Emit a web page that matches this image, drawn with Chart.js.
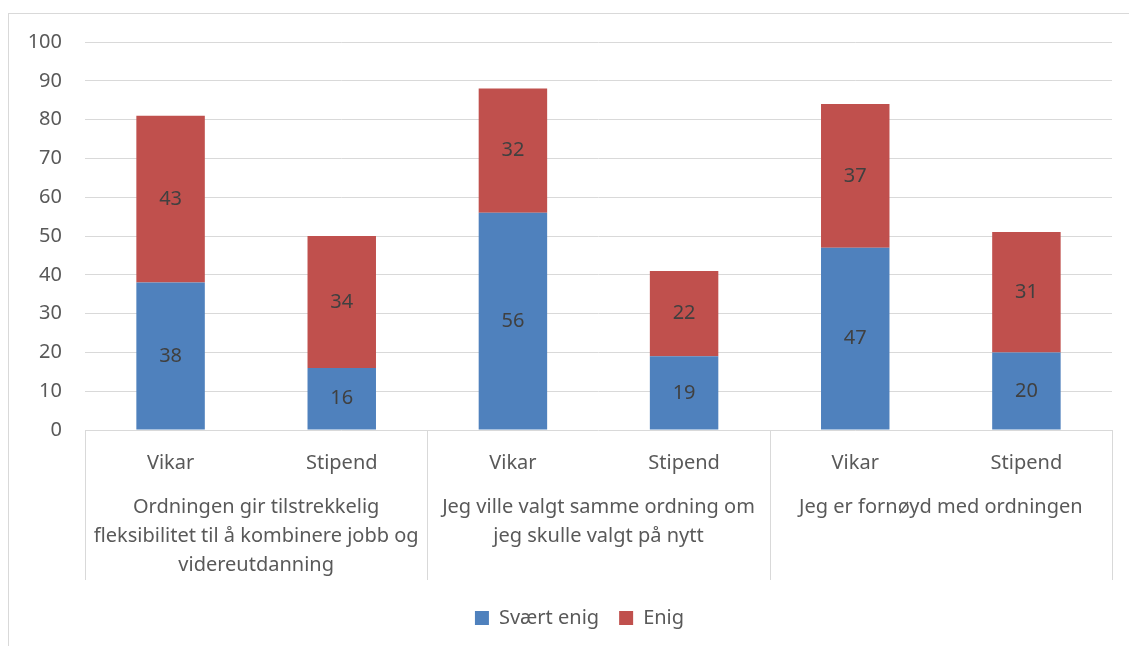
<!DOCTYPE html>
<html>
<head>
<meta charset="utf-8">
<script src="https://cdn.jsdelivr.net/npm/chart.js@4.4.1/dist/chart.umd.min.js"></script>
<style>
    html, body { margin: 0; padding: 0; background: #fff; overflow: hidden; }
    #wrap { position: relative; width: 1129px; height: 646px; }
    #frame { position: absolute; left: 8px; top: 13px; width: 1140px; height: 660px; border: 1px solid #d9d9d9; }
    canvas { position: absolute; left: 0; top: 0; }
</style>
</head>
<body>
<div id="wrap">
    <div id="frame"></div>
    <canvas id="stackchart" width="1129" height="646"></canvas>
</div>
<script>
"use strict";

/* data */
var categories = ['Vikar', 'Stipend', 'Vikar', 'Stipend', 'Vikar', 'Stipend'];
var groups = [
    ['Ordningen gir tilstrekkelig', 'fleksibilitet til å kombinere jobb og', 'videreutdanning'],
    ['Jeg ville valgt samme ordning om', 'jeg skulle valgt på nytt'],
    ['Jeg er fornøyd med ordningen']
];
var svaertEnig = [38, 16, 56, 19, 47, 20];
var enig = [43, 34, 32, 22, 37, 31];
var seriesNames = ['Svært enig', 'Enig'];
var yMax = 100;
var yStep = 10;

Chart.defaults.font.family = "'Noto Sans', sans-serif";
Chart.defaults.font.size = 20;
Chart.defaults.color = '#595959';

/* value labels in the middle of each segment */
var valueLabels = {
    id: 'valueLabels',
    afterDatasetsDraw: function (chart) {
        var ctx = chart.ctx;
        ctx.save();
        ctx.font = "20px 'Noto Sans', sans-serif";
        ctx.fillStyle = '#404040';
        ctx.textAlign = 'center';
        ctx.textBaseline = 'middle';
        chart.data.datasets.forEach(function (ds, i) {
            chart.getDatasetMeta(i).data.forEach(function (bar, j) {
                var p = bar.getCenterPoint();
                ctx.fillText(ds.data[j], p.x, p.y);
            });
        });
        ctx.restore();
    }
};

/* vertical separators of the grouped category axis */
var groupLines = {
    id: 'groupLines',
    afterLayout: function (chart) {
        // nudge the legend a bit left, like the excel one
        if (chart.legend) {
            chart.legend.left -= 19;
            chart.legend.right -= 19;
        }
    },
    afterDraw: function (chart) {
        var x = chart.scales.x;
        var x2 = chart.scales.x2;
        var step = x.getPixelForValue(1) - x.getPixelForValue(0);
        var ctx = chart.ctx;
        ctx.save();
        ctx.strokeStyle = '#d9d9d9';
        ctx.lineWidth = 1;
        for (var i = 0; i <= categories.length; i += 2) {
            var px = Math.round(x.getPixelForValue(0) - step / 2 + i * step) + 0.5;
            ctx.beginPath();
            ctx.moveTo(px, chart.chartArea.bottom);
            ctx.lineTo(px, x2.bottom - 8);
            ctx.stroke();
        }
        ctx.restore();
    }
};

var ctx = document.getElementById('stackchart').getContext('2d');

var config = {
    type: 'bar',
    data: {
        labels: categories,
        datasets: [{
            label: seriesNames[0],
            data: svaertEnig,
            backgroundColor: '#4f81bd',
            borderWidth: 0,
            barPercentage: 0.4,
            categoryPercentage: 1.0
        },
        {
            label: seriesNames[1],
            data: enig,
            backgroundColor: '#c0504d',
            borderWidth: 0,
            barPercentage: 0.4,
            categoryPercentage: 1.0
        }]
    },
    options: {
        responsive: false,
        animation: false,
        layout: {
            padding: { top: 42, left: 0, right: 17, bottom: 8 }
        },
        plugins: {
            legend: {
                position: 'bottom',
                fullSize: false,
                labels: {
                    boxWidth: 14,
                    boxHeight: 14,
                    padding: 20,
                    color: '#595959',
                    font: { size: 20 }
                }
            },
            tooltip: { enabled: false }
        },
        scales: {
            y: {
                stacked: true,
                min: 0,
                max: yMax,
                ticks: { stepSize: yStep, padding: 23 },
                grid: { color: '#d9d9d9', drawTicks: false },
                border: { display: false },
                afterFit: function (scale) { scale.width = 85; }
            },
            x: {
                stacked: true,
                grid: { display: false },
                border: { display: false },
                ticks: { padding: 13 },
                afterFit: function (scale) { scale.height = 51; }
            },
            x2: {
                type: 'category',
                position: 'bottom',
                weight: 1,
                labels: groups,
                offset: true,
                grid: { display: false },
                border: { display: false },
                ticks: { padding: 4, font: { lineHeight: 1.45 }, maxRotation: 0, autoSkip: false },
                afterFit: function (scale) { scale.height = 107; }
            }
        }
    },
    plugins: [valueLabels, groupLines]
};

var myStackChart = new Chart(ctx, config);
</script>
</body>
</html>
